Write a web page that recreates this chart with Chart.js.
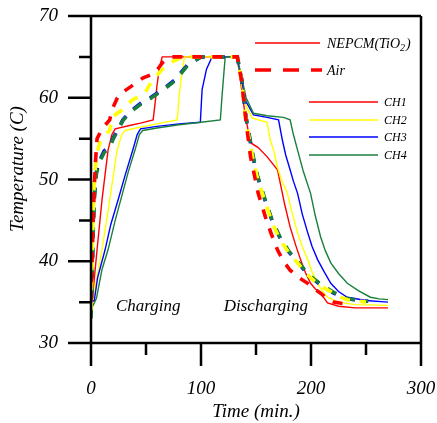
<!DOCTYPE html>
<html>
<head>
<meta charset="utf-8">
<script src="https://cdn.jsdelivr.net/npm/chart.js@4.4.1/dist/chart.umd.min.js"></script>
<style>
  html, body { margin: 0; padding: 0; background: #fff; }
  #wrap { width: 437px; height: 423px; }
</style>
</head>
<body>
<div id="wrap"><canvas id="c" width="437" height="423"></canvas></div>
<script>
// ---- data (time in min, temperature in C) ----
const nepcmCh1T = [0, 1, 5.5, 10, 15.5, 19, 22, 35, 45, 56.5, 58, 60, 62, 64.7, 80, 110, 130, 133, 136, 140, 145, 152, 160, 169.5, 172, 176, 181, 186, 190.5, 195, 199.6, 204, 208.7, 215, 225, 240, 270];
const nepcmCh1Y = [34.8, 35, 41.4, 47.5, 53.6, 55.5, 56.2, 56.6, 56.9, 57.3, 59, 61.5, 63.5, 65, 65, 65, 65, 64.8, 62, 58, 54.5, 53.9, 52.8, 51.2, 49.6, 47, 44.2, 42, 40.2, 38.6, 37.3, 36.6, 36.1, 34.9, 34.5, 34.3, 34.3];

const nepcmCh2T = [0, 2, 10, 17, 23.7, 28, 31, 45, 60, 78.4, 80, 82, 85, 130, 133, 137, 141, 146.8, 160, 163, 166, 169.5, 173, 178.6, 183, 187.8, 192, 197, 201, 206, 210, 215, 225, 240, 270];
const nepcmCh2Y = [35, 35.5, 41.4, 47.5, 53.6, 55.5, 56, 56.4, 56.8, 57.3, 60, 62.5, 65, 65, 64.8, 61.5, 59, 57.5, 57, 54.8, 53.6, 51.5, 50, 48.3, 45.8, 43.5, 41.8, 40.2, 38.7, 37.3, 36.4, 35.6, 35, 34.7, 34.6];

const nepcmCh3T = [0, 3, 6, 12.8, 18, 24.6, 31, 38, 42, 45, 60, 80, 99.4, 101, 105, 110, 130, 133, 137, 141, 147.7, 160, 170.5, 174, 177, 181, 184, 187.8, 192, 197, 201, 206, 212, 218, 225, 233, 250, 270];
const nepcmCh3Y = [35, 35.2, 38, 41.4, 44.5, 47.5, 50.5, 53.6, 55.5, 56.2, 56.5, 56.8, 57, 61, 63.5, 65, 65, 64.8, 62, 59.5, 57.9, 57.6, 57.3, 54.8, 53, 51.2, 49.8, 48.3, 45.8, 43.5, 41.8, 40.2, 38.7, 37.3, 36.3, 35.6, 35.2, 35];

const nepcmCh4T = [0, 2, 5, 10, 15.5, 22, 28, 34, 40, 44, 47, 60, 80, 100, 117.6, 119, 120.5, 122, 130, 133, 137, 141, 147.7, 160, 175, 181, 184, 187.8, 193, 199.6, 204, 208.7, 213, 218, 225, 233, 243, 254, 262, 270];
const nepcmCh4Y = [34.3, 34.6, 35.5, 39, 41.4, 45, 48, 51, 53.6, 55.5, 56, 56.3, 56.7, 57, 57.3, 60, 62.5, 65, 65, 64.9, 62.5, 60, 58.1, 57.8, 57.6, 57.3, 55.5, 53.6, 51, 48.3, 45.5, 43, 41.3, 39.8, 38.5, 37.3, 36.4, 35.6, 35.4, 35.3];

const airCh1T = [0, 1, 2, 3, 4, 5.5, 10, 17, 19, 24, 28, 35.5, 47, 58, 65, 72, 130, 133, 137, 141, 145, 152, 158.6, 164, 169.5, 175, 181, 189, 197, 203, 208.7, 214, 220.6, 230];
const airCh1Y = [35, 40, 45, 49, 52, 55, 56.2, 57.3, 58.5, 60, 60.6, 61.3, 62.4, 63, 64.3, 65, 65, 65, 62, 57, 52.8, 48.3, 45.4, 43.3, 41.4, 40, 38.9, 38, 37.3, 36.6, 36.1, 35.5, 35, 34.8];

const airCh2T = [0, 1, 2, 3, 5, 8, 11, 17, 19, 28, 37.4, 49, 56, 58, 66, 74, 83, 130, 133, 137, 141, 146.8, 151, 158.6, 165, 172, 180, 187.8, 195, 202, 211, 220.6, 227, 233, 250];
const airCh2Y = [34, 40, 46, 50, 53, 54.5, 55.2, 56, 57.6, 58.5, 59.7, 60.6, 62.2, 62.5, 63.6, 64.4, 65, 65, 65, 62, 57, 52.8, 50.3, 47.1, 44.6, 42.6, 41, 39.8, 38.6, 37.7, 36.8, 36.1, 35.6, 35.3, 35];

const airCh3T = [0, 1, 2, 3, 5, 8, 12, 17, 20, 29, 35.5, 47, 54, 67, 76.5, 87.5, 95, 100, 130, 133, 137, 141, 147, 151, 158.6, 165, 172, 180, 188, 195, 202, 211, 220.6, 233, 252];
const airCh3Y = [33.5, 38, 44, 48, 51, 52.4, 53.5, 54, 55, 57.3, 58.3, 59.5, 60, 61.2, 62.2, 64, 64.6, 65, 65, 65, 62.2, 57.5, 53, 50.5, 47.3, 44.8, 42.8, 41.1, 39.9, 38.7, 37.8, 36.9, 36.1, 35.4, 35.1];

const airCh4T = [0, 1, 2, 3, 5, 8, 12, 17, 20, 29, 35.5, 47, 54, 67, 76.5, 87.5, 95, 100, 130, 133, 137, 141, 147, 151, 158.6, 165, 172, 180, 188, 195, 202, 211, 220.6, 233, 252];
const airCh4Y = [33, 37.5, 43.5, 47.5, 50.8, 52.2, 53.3, 53.9, 54.9, 57.2, 58.2, 59.4, 59.9, 61.1, 62.1, 63.9, 64.6, 65, 65, 65, 62.3, 57.6, 53.1, 50.6, 47.4, 44.9, 42.9, 41.2, 40, 38.8, 37.9, 37, 36.2, 35.4, 35.1];

const channelNames = ['CH1', 'CH2', 'CH3', 'CH4'];
const channelColors = ['#ff0000', '#ffff00', '#0000ff', '#1a7f3c'];
const xTickLabels = [0, 100, 200, 300];
const yTickLabels = [30, 40, 50, 60, 70];

function pts(t, y) {
  return t.map((v, i) => ({ x: v, y: y[i] }));
}

const SERIF = '"Liberation Serif", "DejaVu Serif", serif';

const solidSets = [
  [nepcmCh1T, nepcmCh1Y], [nepcmCh2T, nepcmCh2Y], [nepcmCh3T, nepcmCh3Y], [nepcmCh4T, nepcmCh4Y]
];
const dashedSets = [
  [airCh1T, airCh1Y], [airCh2T, airCh2Y], [airCh3T, airCh3Y], [airCh4T, airCh4Y]
];
const dashOffsets = [0, 0, 3, 0];

const datasets = [];
solidSets.forEach((s, i) => {
  datasets.push({
    label: 'NEPCM ' + channelNames[i],
    data: pts(s[0], s[1]),
    borderColor: channelColors[i],
    borderWidth: 1.4,
    pointRadius: 0,
    tension: 0,
    order: 10 - i
  });
});
// lower order is drawn on top: green over blue, yellow and red on top
const dashOrder = [1, 2, 4, 3];
dashedSets.forEach((s, i) => {
  datasets.push({
    label: 'Air ' + channelNames[i],
    data: pts(s[0], s[1]),
    borderColor: channelColors[i],
    borderWidth: 3.6,
    borderDash: [10, 10],
    borderDashOffset: dashOffsets[i],
    pointRadius: 0,
    tension: 0,
    order: dashOrder[i]
  });
});

// axes frame, ticks, titles, legend and annotations
const decor = {
  id: 'decor',
  afterDraw(chart) {
    const ctx = chart.ctx;
    const xs = chart.scales.x, ys = chart.scales.y;
    const L = xs.getPixelForValue(0), R = xs.getPixelForValue(300);
    const T = ys.getPixelForValue(70), B = ys.getPixelForValue(30);
    const major = 23, minor = 12;
    ctx.save();
    ctx.strokeStyle = '#000';
    ctx.lineWidth = 2.5;
    ctx.lineCap = 'butt';
    ctx.beginPath();
    ctx.moveTo(L - major, T); ctx.lineTo(R, T);
    ctx.moveTo(L - major, B); ctx.lineTo(R, B);
    ctx.moveTo(L, T); ctx.lineTo(L, B + major);
    ctx.moveTo(R, T); ctx.lineTo(R, B + major);
    for (let v = 30; v <= 70; v += 5) {
      const p = ys.getPixelForValue(v);
      ctx.moveTo(L - (v % 10 === 0 ? major : minor), p); ctx.lineTo(L, p);
    }
    for (let v = 0; v <= 300; v += 50) {
      const p = xs.getPixelForValue(v);
      ctx.moveTo(p, B); ctx.lineTo(p, B + (v % 100 === 0 ? major : minor));
    }
    ctx.stroke();

    ctx.fillStyle = '#000';
    ctx.font = 'italic 19px ' + SERIF;
    ctx.textAlign = 'center';
    ctx.textBaseline = 'middle';
    ctx.fillText('Time (min.)', 256, 412);
    ctx.save();
    ctx.translate(18, 169);
    ctx.rotate(-Math.PI / 2);
    ctx.fillText('Temperature (C)', 0, 0);
    ctx.restore();

    // phase labels
    ctx.font = 'italic 17px ' + SERIF;
    ctx.textBaseline = 'alphabetic';
    ctx.fillText('Charging', xs.getPixelForValue(52), ys.getPixelForValue(33.9));
    ctx.fillText('Discharging', xs.getPixelForValue(159), ys.getPixelForValue(33.9));

    // legend
    ctx.textAlign = 'left';
    ctx.strokeStyle = '#ff0000';
    ctx.lineWidth = 1.4;
    ctx.beginPath(); ctx.moveTo(255, 43); ctx.lineTo(320, 43); ctx.stroke();
    ctx.lineWidth = 3.6;
    ctx.setLineDash([16, 12]);
    ctx.beginPath(); ctx.moveTo(255, 70); ctx.lineTo(322, 70); ctx.stroke();
    ctx.setLineDash([]);
    ctx.font = 'italic 14px ' + SERIF;
    ctx.fillText('NEPCM(TiO', 327, 48);
    const w = ctx.measureText('NEPCM(TiO').width;
    ctx.font = 'italic 10px ' + SERIF;
    ctx.fillText('2', 327 + w, 51);
    ctx.font = 'italic 14px ' + SERIF;
    ctx.fillText(')', 333 + w, 48);
    ctx.fillText('Air', 327, 75);
    const rows = [102, 120, 137, 155];
    ctx.font = 'italic 12px ' + SERIF;
    channelNames.forEach((n, i) => {
      ctx.strokeStyle = channelColors[i];
      ctx.lineWidth = 1.4;
      ctx.beginPath(); ctx.moveTo(309, rows[i]); ctx.lineTo(378, rows[i]); ctx.stroke();
      ctx.fillText(n, 384, rows[i] + 4);
    });
    ctx.restore();
  }
};

new Chart(document.getElementById('c'), {
  type: 'line',
  data: { datasets },
  options: {
    responsive: false,
    animation: false,
    layout: { padding: { top: 16, right: 16, left: 0, bottom: 0 } },
    plugins: { legend: { display: false }, tooltip: { enabled: false } },
    scales: {
      x: {
        type: 'linear', min: 0, max: 300,
        afterBuildTicks: s => { s.ticks = xTickLabels.map(v => ({ value: v })); },
        afterFit: s => { s.height = 80; s.paddingLeft = 0; s.paddingRight = 0; },
        grid: { display: true, drawOnChartArea: false, drawTicks: true, tickLength: 23, color: 'rgba(0,0,0,0)' },
        border: { display: false },
        ticks: { color: '#000', padding: 12, maxRotation: 0, font: { family: SERIF, size: 19, style: 'italic' } }
      },
      y: {
        type: 'linear', min: 30, max: 70,
        afterBuildTicks: s => { s.ticks = yTickLabels.map(v => ({ value: v })); },
        afterFit: s => { s.width = 91; s.paddingTop = 0; s.paddingBottom = 0; },
        grid: { display: true, drawOnChartArea: false, drawTicks: true, tickLength: 23, color: 'rgba(0,0,0,0)' },
        border: { display: false },
        ticks: { color: '#000', padding: 10, font: { family: SERIF, size: 19, style: 'italic' } }
      }
    }
  },
  plugins: [decor]
});
</script>
</body>
</html>
